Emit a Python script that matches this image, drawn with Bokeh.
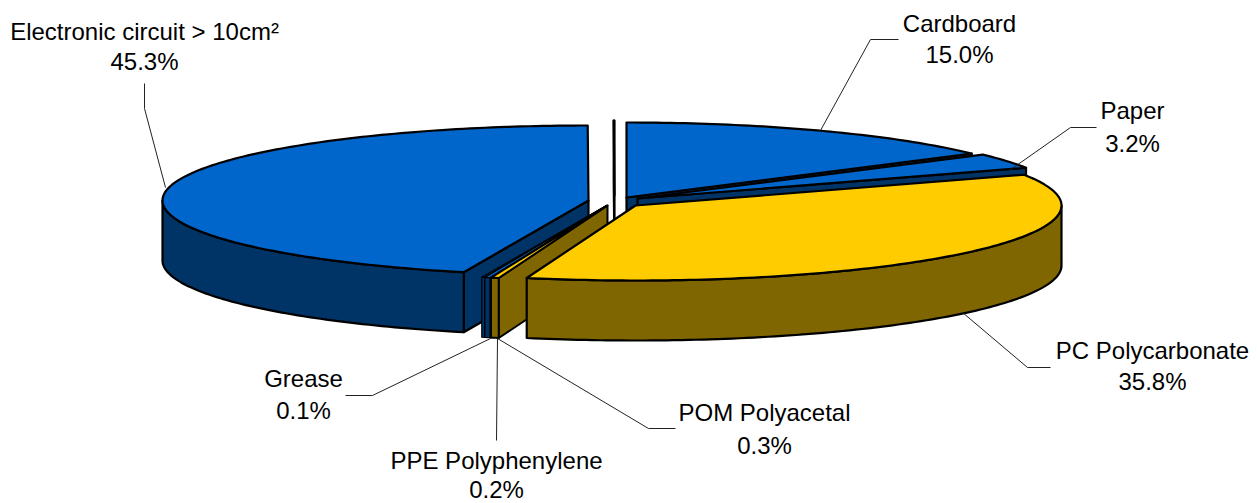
import math
from bokeh.plotting import figure
from bokeh.models import ColumnDataSource
from bokeh.core.properties import value
from bokeh.embed import file_html
from bokeh.resources import INLINE

# --- data (clockwise from 12 o'clock) ---
categories = ["Cardboard", "Paper", "PC Polycarbonate", "POM Polyacetal",
              "PPE Polyphenylene", "Grease", "Electronic circuit > 10cm²", ""]
values = [15.04, 3.24, 35.84, 0.30, 0.20, 0.12, 45.25, 0.03]
percent_labels = ["15.0%", "3.2%", "35.8%", "0.3%", "0.2%", "0.1%", "45.3%", ""]
top_colors = ["#0066CC", "#0066CC", "#FFCC00", "#FFCC00", "#0066CC", "#0066CC", "#0066CC", "#0066CC"]
wall_colors = ["#003366", "#003366", "#806600", "#806600", "#003366", "#003366", "#003366", "#003366"]

# --- layout (page pixels) ---
W, H = 1257, 503
RX, RY, DEPTH = 426, 75, 60
centers = [(626, 197), (637, 198), (635, 205), (607, 205),
           (606, 205), (606, 205), (588, 200), (614, 195)]
draw_order = [6, 7, 5, 4, 3, 0, 1, 2]
line_widths = [2.2, 2.2, 2.2, 2.0, 1.2, 1.2, 2.2, 2.2]
leaders = {
    0: [(820, 130), (870, 39), (898, 39)],
    1: [(1006, 172), (1070, 127), (1096, 127)],
    2: [(962, 312), (1027, 367), (1050, 367)],
    3: [(497, 338), (648, 428), (675, 428)],
    4: [(497, 338), (496, 440)],
    5: [(490, 338), (372, 395), (345, 395)],
    6: [(165, 187), (144, 108), (144, 83)],
}
label_pos = {0: (959, 23, 54), 1: (1132, 110, 143), 2: (1152, 350, 381),
             3: (764, 412, 445), 4: (496, 460, 489), 5: (303, 378, 410), 6: (144, 31, 61)}
FONT_PX = 24

p = figure(width=W, height=H, output_backend="svg", toolbar_location=None,
           x_range=(0, W), y_range=(H, 0), min_border=0,
           outline_line_color=None, background_fill_color="white", border_fill_color="white")
p.axis.visible = False
p.grid.visible = False


def pt(c, deg, dy=0):
    t = math.radians(deg)
    return c[0] + RX * math.sin(t), c[1] - RY * math.cos(t) + dy


def arc(c, a, b, dy=0):
    n = max(2, int(abs(b - a)) + 2)
    return [pt(c, a + (b - a) * i / (n - 1), dy) for i in range(n)]


def poly(points, color, lw):
    p.patch([q[0] for q in points], [q[1] for q in points], fill_color=color,
            line_color="black", line_width=lw, line_join="round")


total = sum(values)
edges = [0.0]
for v in values:
    edges.append(edges[-1] + v / total * 360)

for i in draw_order:
    a, b, c, lw = edges[i], edges[i + 1], centers[i], line_widths[i]
    tip = c
    tip_low = (c[0], c[1] + DEPTH)
    if b < 180:  # closing radial wall faces the viewer
        poly([tip, pt(c, b), pt(c, b, DEPTH), tip_low], wall_colors[i], lw)
    if a > 180:  # opening radial wall faces the viewer
        poly([tip, pt(c, a), pt(c, a, DEPTH), tip_low], wall_colors[i], lw)
    lo, hi = max(a, 90), min(b, 270)
    if hi > lo:  # outer curved wall
        poly(arc(c, lo, hi) + arc(c, hi, lo, DEPTH), wall_colors[i], lw)
    poly([tip] + arc(c, a, b), top_colors[i], lw)

for i, pts in leaders.items():
    p.line([q[0] for q in pts], [q[1] for q in pts], line_color="#222222", line_width=1)

xs, ys, txt = [], [], []
for i, (x, y1, y2) in label_pos.items():
    xs += [x, x]
    ys += [y1, y2]
    txt += [categories[i], percent_labels[i]]
p.text(x="x", y="y", text="t", source=ColumnDataSource(dict(x=xs, y=ys, t=txt)),
       text_font=value("Liberation Sans"), text_font_size=f"{FONT_PX}px", text_color="black",
       text_align="center", text_baseline="middle")

open("out.html", "w").write(file_html(p, INLINE))
